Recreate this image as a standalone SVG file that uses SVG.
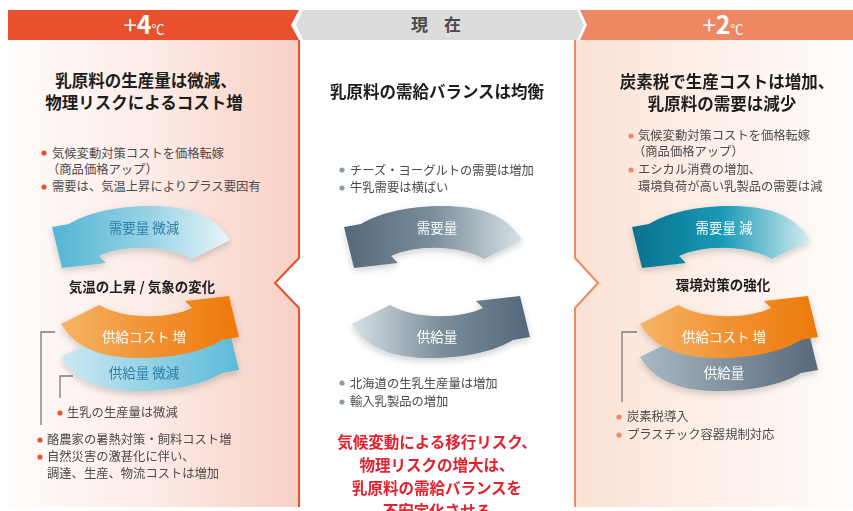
<svg xmlns="http://www.w3.org/2000/svg" xmlns:xlink="http://www.w3.org/1999/xlink" width="853" height="511" viewBox="0 0 853 511">
<style>
.t{font-family:"Noto Sans CJK JP","Noto Sans",sans-serif}
.title{font-size:16.5px;font-weight:bold;fill:#1d1d1d}
.bul{font-size:12.3px;fill:#4a4a4a}
.lbl{font-size:13.5px;font-weight:bold;fill:#1d1d1d}
.arw{font-size:13.5px}
.red{font-size:15.5px;font-weight:bold;fill:#e3202c}
.hd{fill:#fff}
.br{fill:none;stroke:#7a7a7a;stroke-width:1.3}
</style>
<defs>
<linearGradient id="lp" x1="0" y1="0" x2="1" y2="0"><stop offset="0" stop-color="#fffcfb"/><stop offset="0.5" stop-color="#fcebe6"/><stop offset="1" stop-color="#f8d0c4"/></linearGradient>
<linearGradient id="rp" x1="0" y1="0" x2="1" y2="0"><stop offset="0" stop-color="#fbe2d5"/><stop offset="1" stop-color="#fffdfc"/></linearGradient>
<linearGradient id="gBlueT" x1="0" y1="0" x2="1" y2="0"><stop offset="0" stop-color="#52b5d5"/><stop offset="0.55" stop-color="#98d3e5"/><stop offset="1" stop-color="#e8f5f9"/></linearGradient>
<linearGradient id="gBlueB" x1="0" y1="0" x2="1" y2="0"><stop offset="0" stop-color="#5cbad8"/><stop offset="1" stop-color="#cde9f2"/></linearGradient>
<linearGradient id="gOr" x1="0" y1="0" x2="1" y2="0"><stop offset="0" stop-color="#ee790a"/><stop offset="0.5" stop-color="#f19232"/><stop offset="1" stop-color="#f5b566"/></linearGradient>
<linearGradient id="gGray" x1="0" y1="0" x2="1" y2="0"><stop offset="0" stop-color="#53677a"/><stop offset="0.5" stop-color="#7b8e9b"/><stop offset="1" stop-color="#d8e1e7"/></linearGradient>
<linearGradient id="gGrayR" x1="0" y1="0" x2="1" y2="0"><stop offset="0" stop-color="#56687a"/><stop offset="1" stop-color="#aabac4"/></linearGradient>
<linearGradient id="gTeal" x1="0" y1="0" x2="1" y2="0"><stop offset="0" stop-color="#08718e"/><stop offset="0.5" stop-color="#1799b5"/><stop offset="1" stop-color="#d4ebf1"/></linearGradient>
<filter id="sh" x="-10%" y="-20%" width="120%" height="150%"><feDropShadow dx="0" dy="3" stdDeviation="3.5" flood-color="#000" flood-opacity="0.18"/></filter>
<path id="arcT" d="M 484,259 L 522,240 C 506,213 476,205 437,206 C 401,207 376,215 361,224 L 344,227 L 354,268 L 398,263 L 391,256 C 412,246 455,243 484,259 Z"/>
</defs>

<g id="panel-left">
<polygon points="8,40 299,40 299,258 275,283 299,308 299,507 8,507" fill="url(#lp)"/>
<polyline points="299,40 299,258 275,283 299,308 299,507" fill="none" stroke="#e8502f" stroke-width="2"/>
<polygon points="8,10 299,10 291,25 299,40 8,40" fill="#e9502e"/>
<text class="t hd" x="144" y="34" text-anchor="middle"><tspan font-size="24">+</tspan><tspan font-size="25" font-weight="bold">4</tspan><tspan font-size="13">℃</tspan></text>
</g>

<g id="panel-right">
<polygon points="575,40 853,40 853,507 575,507 575,308 598,283 575,258" fill="url(#rp)"/>
<polyline points="575,40 575,258 598,283 575,308 575,507" fill="none" stroke="#ec8a64" stroke-width="2"/>
<polygon points="580,10 853,10 853,40 580,40 587,25" fill="#ee8763"/>
<text class="t hd" x="723" y="34" text-anchor="middle"><tspan font-size="24">+</tspan><tspan font-size="25" font-weight="bold">2</tspan><tspan font-size="13">℃</tspan></text>
</g>

<g id="panel-center">
<polygon points="303,10 577,10 584,25 577,40 303,40 296,25" fill="#dcdcdc"/>
<text class="t" x="436" y="31" text-anchor="middle" font-size="17" font-weight="bold" fill="#4a4a4a" word-spacing="12">現 在</text>
</g>

<g id="left-content">
<text class="t title" x="146" y="87" text-anchor="middle">乳原料の生産量は微減、</text>
<text class="t title" x="144" y="109" text-anchor="middle">物理リスクによるコスト増</text>
<circle cx="44" cy="153" r="2.6" fill="#e8502f"/>
<text class="t bul" x="52" y="158">気候変動対策コストを価格転嫁</text>
<text class="t bul" x="47" y="174">（商品価格アップ）</text>
<circle cx="44" cy="187" r="2.6" fill="#e8502f"/>
<text class="t bul" x="52" y="191">需要は、気温上昇によりプラス要因有</text>
</g>

<g id="left-cycle" filter="url(#sh)">
<use xlink:href="#arcT" fill="url(#gBlueT)" transform="translate(-292,0)"/>
<use xlink:href="#arcT" fill="url(#gBlueB)" transform="translate(-291,33) rotate(180 437 282)"/>
<use xlink:href="#arcT" fill="url(#gOr)" transform="translate(-291,0) rotate(180 437 282)"/>
</g>
<g id="left-cycle-labels">
<text class="t arw" x="144" y="233" text-anchor="middle" fill="#2a80a6">需要量 微減</text>
<text class="t lbl" x="142" y="292" text-anchor="middle">気温の上昇 / 気象の変化</text>
<text class="t arw" x="144" y="342" text-anchor="middle" fill="#fff">供給コスト 増</text>
<text class="t arw" x="144" y="378" text-anchor="middle" fill="#2a80a6">供給量 微減</text>
</g>

<g id="connectors">
<polyline class="br" points="55,332 41,332 41,425"/>
<polyline class="br" points="73,376 60,376 60,398"/>
<polyline class="br" points="637,332 622,332 622,402"/>
</g>

<g id="left-bottom">
<circle cx="60" cy="413" r="2.6" fill="#e8502f"/>
<text class="t bul" x="67" y="417">生乳の生産量は微減</text>
<circle cx="40" cy="440" r="2.6" fill="#e8502f"/>
<text class="t bul" x="47" y="444">酪農家の暑熱対策・飼料コスト増</text>
<circle cx="40" cy="457" r="2.6" fill="#e8502f"/>
<text class="t bul" x="47" y="461">自然災害の激甚化に伴い、</text>
<text class="t bul" x="47" y="478">調達、生産、物流コストは増加</text>
</g>

<g id="center-content">
<text class="t title" x="437" y="98" text-anchor="middle">乳原料の需給バランスは均衡</text>
<circle cx="342" cy="170" r="2.6" fill="#8c9ba7"/>
<text class="t bul" x="350" y="175">チーズ・ヨーグルトの需要は増加</text>
<circle cx="342" cy="188" r="2.6" fill="#8c9ba7"/>
<text class="t bul" x="350" y="192">牛乳需要は横ばい</text>
</g>

<g id="center-cycle" filter="url(#sh)">
<use xlink:href="#arcT" fill="url(#gGray)"/>
<use xlink:href="#arcT" fill="url(#gGray)" transform="rotate(180 437 282)"/>
</g>
<g id="center-cycle-labels">
<text class="t arw" x="437" y="233" text-anchor="middle" fill="#fff" font-size="14.5">需要量</text>
<text class="t arw" x="437" y="342" text-anchor="middle" fill="#fff" font-size="14.5">供給量</text>
</g>

<g id="center-bottom">
<circle cx="342" cy="383" r="2.6" fill="#8c9ba7"/>
<text class="t bul" x="350" y="388">北海道の生乳生産量は増加</text>
<circle cx="342" cy="402" r="2.6" fill="#8c9ba7"/>
<text class="t bul" x="350" y="406">輸入乳製品の増加</text>
<text class="t red" x="437" y="448" text-anchor="middle">気候変動による移行リスク、</text>
<text class="t red" x="437" y="471" text-anchor="middle">物理リスクの増大は、</text>
<text class="t red" x="437" y="494" text-anchor="middle">乳原料の需給バランスを</text>
<text class="t red" x="437" y="517" text-anchor="middle">不安定化させる</text>
</g>

<g id="right-content">
<text class="t title" x="727" y="88" text-anchor="middle">炭素税で生産コストは増加、</text>
<text class="t title" x="722" y="110" text-anchor="middle">乳原料の需要は減少</text>
<circle cx="631" cy="136" r="2.6" fill="#ee8a64"/>
<text class="t bul" x="638" y="140">気候変動対策コストを価格転嫁</text>
<text class="t bul" x="633" y="156">（商品価格アップ）</text>
<circle cx="631" cy="170" r="2.6" fill="#ee8a64"/>
<text class="t bul" x="638" y="174">エシカル消費の増加、</text>
<text class="t bul" x="638" y="191">環境負荷が高い乳製品の需要は減</text>
</g>

<g id="right-cycle" filter="url(#sh)">
<use xlink:href="#arcT" fill="url(#gTeal)" transform="translate(288,0)"/>
<use xlink:href="#arcT" fill="url(#gGrayR)" transform="translate(288,33) rotate(180 437 282)"/>
<use xlink:href="#arcT" fill="url(#gOr)" transform="translate(288,0) rotate(180 437 282)"/>
</g>
<g id="right-cycle-labels">
<text class="t arw" x="724" y="233" text-anchor="middle" fill="#fff">需要量 減</text>
<text class="t lbl" x="723" y="290" text-anchor="middle">環境対策の強化</text>
<text class="t arw" x="724" y="342" text-anchor="middle" fill="#fff">供給コスト 増</text>
<text class="t arw" x="724" y="378" text-anchor="middle" fill="#fff">供給量</text>
</g>

<g id="right-bottom">
<circle cx="619" cy="417" r="2.6" fill="#ee8a64"/>
<text class="t bul" x="627" y="421">炭素税導入</text>
<circle cx="619" cy="435" r="2.6" fill="#ee8a64"/>
<text class="t bul" x="627" y="439">プラスチック容器規制対応</text>
</g>
</svg>
